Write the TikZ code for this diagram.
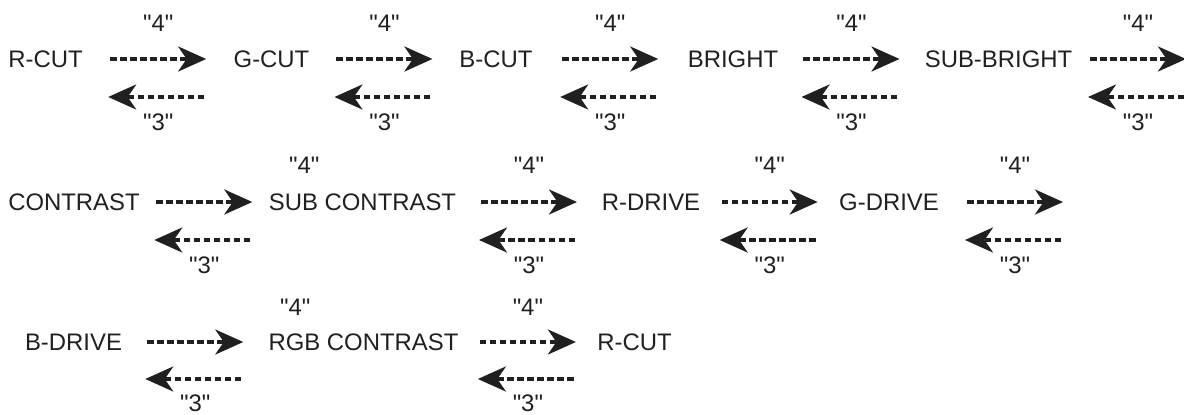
\documentclass[tikz,border=0pt]{standalone}
\usepackage{fontspec}
\newfontfamily\menufont{Liberation Sans}
\usetikzlibrary{arrows.meta,calc}

\begin{document}
\begin{tikzpicture}[
    word/.style={inner sep=0pt,font=\menufont\fontsize{13.6}{16}\selectfont,text=menuink},
    numlbl/.style={inner sep=0pt,font=\menufont\fontsize{13.6}{16}\selectfont,text=menuink},
    keystep/.style={draw=menuink,line width=2pt,dash pattern=on 0.13cm off 0.07cm,-{Stealth[length=0.56cm,width=0.5cm,inset=0.17cm]}}
]
    \definecolor{menuink}{RGB}{32,32,32}
    \useasboundingbox (0,0) rectangle (23.68,8.28);
    \node[word] (rcut) at (0.91,7.10) {R-CUT};
    \node[word] (gcut) at (5.43,7.10) {G-CUT};
    \node[word] (bcut) at (9.92,7.10) {B-CUT};
    \node[word] (bright) at (14.66,7.10) {BRIGHT};
    \node[word] (subbright) at (19.97,7.10) {SUB-BRIGHT};
    \node[word] (contrast) at (1.48,4.24) {CONTRAST};
    \node[word] (subcontrast) at (7.25,4.24) {SUB CONTRAST};
    \node[word] (rdrive) at (13.02,4.24) {R-DRIVE};
    \node[word] (gdrive) at (17.78,4.24) {G-DRIVE};
    \node[word] (bdrive) at (1.47,1.44) {B-DRIVE};
    \node[word] (rgbcontrast) at (7.27,1.44) {RGB CONTRAST};
    \node[word] (rcutend) at (12.69,1.44) {R-CUT};
    \coordinate (m1) at ($(rcut.east)!0.5!(gcut.west)$);
    \coordinate (m2) at ($(gcut.east)!0.5!(bcut.west)$);
    \coordinate (m3) at ($(bcut.east)!0.5!(bright.west)$);
    \coordinate (m4) at ($(bright.east)!0.5!(subbright.west)$);
    \coordinate (m5) at (22.76,7.10);
    \coordinate (m6) at ($(contrast.east)!0.5!(subcontrast.west)$);
    \coordinate (m7) at ($(subcontrast.east)!0.5!(rdrive.west)$);
    \coordinate (m8) at ($(rdrive.east)!0.5!(gdrive.west)$);
    \coordinate (m9) at (20.30,4.24);
    \coordinate (m10) at ($(bdrive.east)!0.5!(rgbcontrast.west)$);
    \coordinate (m11) at ($(rgbcontrast.east)!0.5!(rcutend.west)$);
    \draw[keystep] ([xshift=-0.96cm]m1) -- ([xshift=0.96cm]m1);
    \draw[keystep] ([xshift=-0.96cm]m2) -- ([xshift=0.96cm]m2);
    \draw[keystep] ([xshift=-0.96cm]m3) -- ([xshift=0.96cm]m3);
    \draw[keystep] ([xshift=-0.96cm]m4) -- ([xshift=0.96cm]m4);
    \draw[keystep] ([xshift=-0.96cm]m5) -- ([xshift=0.96cm]m5);
    \draw[keystep] ([xshift=-0.96cm]m6) -- ([xshift=0.96cm]m6);
    \draw[keystep] ([xshift=-0.96cm]m7) -- ([xshift=0.96cm]m7);
    \draw[keystep] ([xshift=-0.96cm]m8) -- ([xshift=0.96cm]m8);
    \draw[keystep] ([xshift=-0.96cm]m9) -- ([xshift=0.96cm]m9);
    \draw[keystep] ([xshift=-0.96cm]m10) -- ([xshift=0.96cm]m10);
    \draw[keystep] ([xshift=-0.96cm]m11) -- ([xshift=0.96cm]m11);
    \draw[keystep] ([xshift=0.92cm,yshift=-0.76cm]m1) -- ([xshift=-1cm,yshift=-0.76cm]m1);
    \draw[keystep] ([xshift=0.92cm,yshift=-0.76cm]m2) -- ([xshift=-1cm,yshift=-0.76cm]m2);
    \draw[keystep] ([xshift=0.92cm,yshift=-0.76cm]m3) -- ([xshift=-1cm,yshift=-0.76cm]m3);
    \draw[keystep] ([xshift=0.92cm,yshift=-0.76cm]m4) -- ([xshift=-1cm,yshift=-0.76cm]m4);
    \draw[keystep] ([xshift=0.92cm,yshift=-0.76cm]m5) -- ([xshift=-1cm,yshift=-0.76cm]m5);
    \draw[keystep] ([xshift=0.92cm,yshift=-0.76cm]m6) -- ([xshift=-1cm,yshift=-0.76cm]m6);
    \draw[keystep] ([xshift=0.92cm,yshift=-0.76cm]m7) -- ([xshift=-1cm,yshift=-0.76cm]m7);
    \draw[keystep] ([xshift=0.92cm,yshift=-0.76cm]m8) -- ([xshift=-1cm,yshift=-0.76cm]m8);
    \draw[keystep] ([xshift=0.92cm,yshift=-0.76cm]m9) -- ([xshift=-1cm,yshift=-0.76cm]m9);
    \draw[keystep] ([xshift=0.92cm,yshift=-0.74cm]m10) -- ([xshift=-1cm,yshift=-0.74cm]m10);
    \draw[keystep] ([xshift=0.92cm,yshift=-0.74cm]m11) -- ([xshift=-1cm,yshift=-0.74cm]m11);
    \node[numlbl] (up1) at ([yshift=0.72cm]m1) {"4"};
    \node[numlbl] (up2) at ([yshift=0.72cm]m2) {"4"};
    \node[numlbl] (up3) at ([yshift=0.72cm]m3) {"4"};
    \node[numlbl] (up4) at ([yshift=0.72cm]m4) {"4"};
    \node[numlbl] (up5) at ([yshift=0.72cm]m5) {"4"};
    \node[numlbl] (up6) at ([xshift=2cm,yshift=0.74cm]m6) {"4"};
    \node[numlbl] (up7) at ([yshift=0.74cm]m7) {"4"};
    \node[numlbl] (up8) at ([yshift=0.74cm]m8) {"4"};
    \node[numlbl] (up9) at ([yshift=0.74cm]m9) {"4"};
    \node[numlbl] (up10) at ([xshift=2cm,yshift=0.70cm]m10) {"4"};
    \node[numlbl] (up11) at ([yshift=0.70cm]m11) {"4"};
    \node[numlbl] (dn1) at ([yshift=-1.26cm]m1) {"3"};
    \node[numlbl] (dn2) at ([yshift=-1.26cm]m2) {"3"};
    \node[numlbl] (dn3) at ([yshift=-1.26cm]m3) {"3"};
    \node[numlbl] (dn4) at ([yshift=-1.26cm]m4) {"3"};
    \node[numlbl] (dn5) at ([yshift=-1.26cm]m5) {"3"};
    \node[numlbl] (dn6) at ([yshift=-1.26cm]m6) {"3"};
    \node[numlbl] (dn7) at ([yshift=-1.26cm]m7) {"3"};
    \node[numlbl] (dn8) at ([yshift=-1.26cm]m8) {"3"};
    \node[numlbl] (dn9) at ([yshift=-1.26cm]m9) {"3"};
    \node[numlbl] (dn10) at ([yshift=-1.22cm]m10) {"3"};
    \node[numlbl] (dn11) at ([yshift=-1.22cm]m11) {"3"};
\end{tikzpicture}
\end{document}
